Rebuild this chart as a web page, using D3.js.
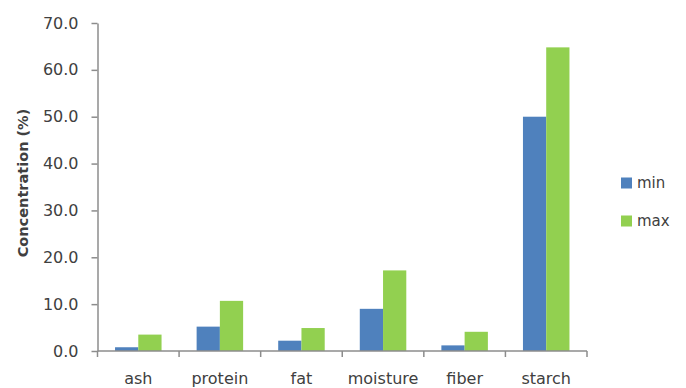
<!DOCTYPE html>
<html><head><meta charset="utf-8">
<script src="https://cdn.jsdelivr.net/npm/d3@7"></script>
<style>
html,body{margin:0;padding:0;background:#fff;}
svg{display:block;}
text{font-family:"DejaVu Sans",Verdana,sans-serif;fill:#404040;}
</style></head>
<body>
<svg id="chart" width="686" height="388"></svg>
<script>
const categories = ["ash","protein","fat","moisture","fiber","starch"];
const seriesNames = ["min","max"];
const minValues = [0.8, 5.2, 2.2, 9.0, 1.2, 50.0];
const maxValues = [3.5, 10.7, 4.9, 17.2, 4.1, 64.8];
const yTicks = [0,10,20,30,40,50,60,70];
const colors = ["#4f81bd","#92d050"];

(function(){
const svg = d3.select("#chart");
const pLeft = 97.5, pRight = 587, pTop = 23, pBottom = 351;
const x = d3.scaleBand().domain(categories).range([pLeft,pRight]).paddingInner(0.43).paddingOuter(0.215);
const xs = d3.scaleBand().domain(seriesNames).range([0,x.bandwidth()]);
const y = d3.scaleLinear().domain([0,70]).range([pBottom,pTop]);
const axisColor = "#8c8c8c";

// bars
const data = categories.map((c,i)=>({c, vals:[minValues[i],maxValues[i]]}));
const g = svg.append("g");
data.forEach(d=>{
  d.vals.forEach((v,j)=>{
    g.append("rect")
     .attr("x", x(d.c)+xs(seriesNames[j]))
     .attr("width", xs.bandwidth())
     .attr("y", y(v))
     .attr("height", y(0)-y(v))
     .attr("fill", colors[j]);
  });
});

// y axis
const yAxis = svg.append("g").attr("transform",`translate(${pLeft},0)`)
  .call(d3.axisLeft(y).tickValues(yTicks).tickFormat(d3.format(".1f")).tickSize(6).tickSizeOuter(0).tickPadding(13));
yAxis.select(".domain").attr("stroke",axisColor).attr("stroke-width",1.5);
yAxis.selectAll(".tick line").attr("stroke",axisColor).attr("stroke-width",1.5);
yAxis.selectAll(".tick text").attr("font-size","16px").attr("fill","#404040").attr("font-family","DejaVu Sans");

// x axis
const xAxisG = svg.append("g").attr("transform",`translate(0,${pBottom})`);
xAxisG.append("line").attr("x1",pLeft).attr("x2",pRight).attr("stroke",axisColor).attr("stroke-width",1.5);
const step = x.step();
const bounds = d3.range(categories.length+1).map(i=>pLeft+i*step);
xAxisG.selectAll(".xt").data(bounds).enter().append("line")
  .attr("x1",d=>d).attr("x2",d=>d).attr("y1",0).attr("y2",6)
  .attr("stroke",axisColor).attr("stroke-width",1.5);
xAxisG.selectAll(".xl").data(categories).enter().append("text")
  .attr("x",d=>x(d)+x.bandwidth()/2).attr("y",33)
  .attr("text-anchor","middle").attr("font-size","16px").text(d=>d);

// y title
svg.append("text")
  .attr("transform","translate(28,183) rotate(-90)")
  .attr("text-anchor","middle")
  .attr("font-size","14.5px").attr("font-weight","bold").attr("fill","#000")
  .text("Concentration (%)");

// legend
const legend = svg.append("g");
seriesNames.forEach((s,i)=>{
  const ly = 183 + i*38;
  legend.append("rect").attr("x",621).attr("y",ly-5.5).attr("width",11).attr("height",11).attr("fill",colors[i]);
  legend.append("text").attr("x",637).attr("y",ly).attr("dy","0.35em").attr("font-size","15px").text(s);
});
})();
</script>
</body></html>
